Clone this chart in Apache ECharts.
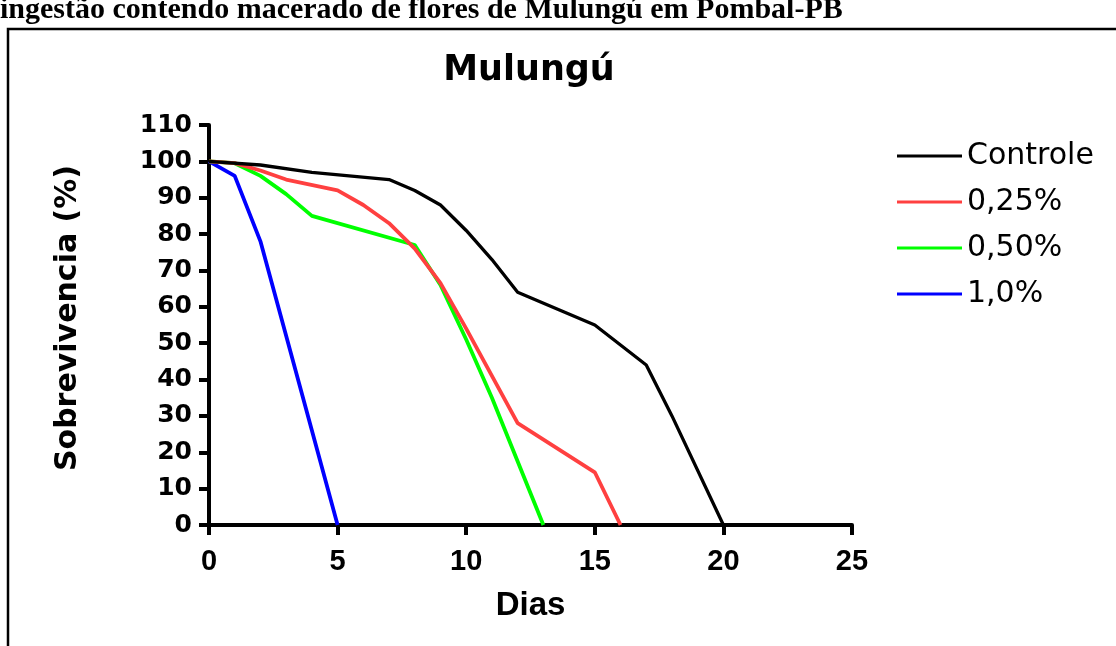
<!DOCTYPE html>
<html>
<head>
<meta charset="utf-8">
<script src="https://cdn.jsdelivr.net/npm/echarts@6/dist/echarts.min.js"></script>
<style>
html,body{margin:0;padding:0;background:#fff;}
#c{width:1116px;height:646px;}
</style>
</head>
<body>
<div id="c"></div>
<script>
const seriesNames = ['Controle', '0,25%', '0,50%', '1,0%'];
const controleDias = [0, 2, 4, 7, 8, 9, 10, 11, 12, 15, 17, 18, 20];
const controleVals = [100, 99, 97, 95, 92, 88, 81, 73, 64, 55, 44, 30, 0];
const c025Dias = [0, 1, 2, 3, 5, 6, 7, 8, 9, 10, 11, 12, 15, 16];
const c025Vals = [100, 99.5, 97.5, 95, 92, 88, 83, 76, 66.5, 54, 41, 28, 14.5, 0];
const c050Dias = [0, 1, 2, 3, 4, 8, 9, 10, 11, 13];
const c050Vals = [100, 99.5, 96, 91, 85, 77, 66, 51, 35, 0];
const c10Dias = [0, 1, 2, 5];
const c10Vals = [100, 96, 78, 0];
const xTicks = [0, 5, 10, 15, 20, 25];
const yTicks = [0, 10, 20, 30, 40, 50, 60, 70, 80, 90, 100, 110];

const colors = ['#000000', '#ff4040', '#00ff00', '#0000ff'];
const widths = [3.3, 3.8, 3.8, 3.8];
const dias = [controleDias, c025Dias, c050Dias, c10Dias];
const vals = [controleVals, c025Vals, c050Vals, c10Vals];

const chart = echarts.init(document.getElementById('c'), null, {renderer: 'canvas'});
const series = seriesNames.map((n, i) => ({
  name: n,
  type: 'line',
  data: dias[i].map((d, j) => [d, vals[i][j]]),
  symbol: 'none',
  showSymbol: false,
  lineStyle: {color: colors[i], width: widths[i]},
  itemStyle: {color: colors[i]},
  z: 10 - i,
  animation: false
}));

chart.setOption({
  backgroundColor: '#ffffff',
  animation: false,
  title: {
    text: 'Mulungú',
    left: 529,
    top: 51,
    textAlign: 'center',
    padding: 0,
    textStyle: {fontFamily: 'DejaVu Sans', fontWeight: 'bold', fontSize: 35, lineHeight: 40, color: '#000'}
  },
  legend: {
    orient: 'vertical',
    left: 897,
    top: 141,
    icon: 'rect',
    itemWidth: 65,
    itemHeight: 3,
    itemGap: 16,
    padding: 0,
    data: seriesNames,
    textStyle: {fontFamily: 'DejaVu Sans', fontSize: 30, lineHeight: 30, color: '#000'}
  },
  grid: {left: 209, right: 264, top: 125, bottom: 121, containLabel: false},
  xAxis: {
    type: 'value',
    min: xTicks[0],
    max: xTicks[xTicks.length - 1],
    interval: 5,
    name: 'Dias',
    nameLocation: 'middle',
    nameGap: 64,
    nameTextStyle: {fontFamily: 'Liberation Sans', fontWeight: 'bold', fontSize: 33, color: '#000'},
    axisLine: {show: true, onZero: false, lineStyle: {color: '#000', width: 4}},
    axisTick: {show: true, length: 10, lineStyle: {color: '#000', width: 4}},
    axisLabel: {margin: 22, fontFamily: 'Liberation Sans', fontWeight: 'bold', fontSize: 29, color: '#000'},
    splitLine: {show: false}
  },
  yAxis: {
    type: 'value',
    min: yTicks[0],
    max: yTicks[yTicks.length - 1],
    interval: 10,
    name: 'Sobrevivencia (%)',
    nameLocation: 'middle',
    nameGap: 126,
    nameTextStyle: {fontFamily: 'DejaVu Sans', fontWeight: 'bold', fontSize: 30, color: '#000', padding: [0, 0, 0, 14]},
    axisLine: {show: true, onZero: false, lineStyle: {color: '#000', width: 4}},
    axisTick: {show: true, length: 10, lineStyle: {color: '#000', width: 4}},
    axisLabel: {margin: 17, fontFamily: 'DejaVu Sans', fontWeight: 'bold', fontSize: 25, color: '#000'},
    splitLine: {show: false}
  },
  graphic: [
    {
      type: 'polyline',
      shape: {points: [[8, 646], [8, 29], [1116, 29]]},
      style: {stroke: '#000', lineWidth: 2.5, fill: null},
      silent: true
    },
    {
      type: 'text',
      left: 0,
      top: -5,
      style: {
        text: 'ingestão contendo macerado de flores de Mulungú em Pombal-PB',
        fontFamily: 'Liberation Serif',
        fontWeight: 'bold',
        fontSize: 30,
        fill: '#000'
      },
      silent: true
    }
  ],
  series: series
});
</script>
</body>
</html>
